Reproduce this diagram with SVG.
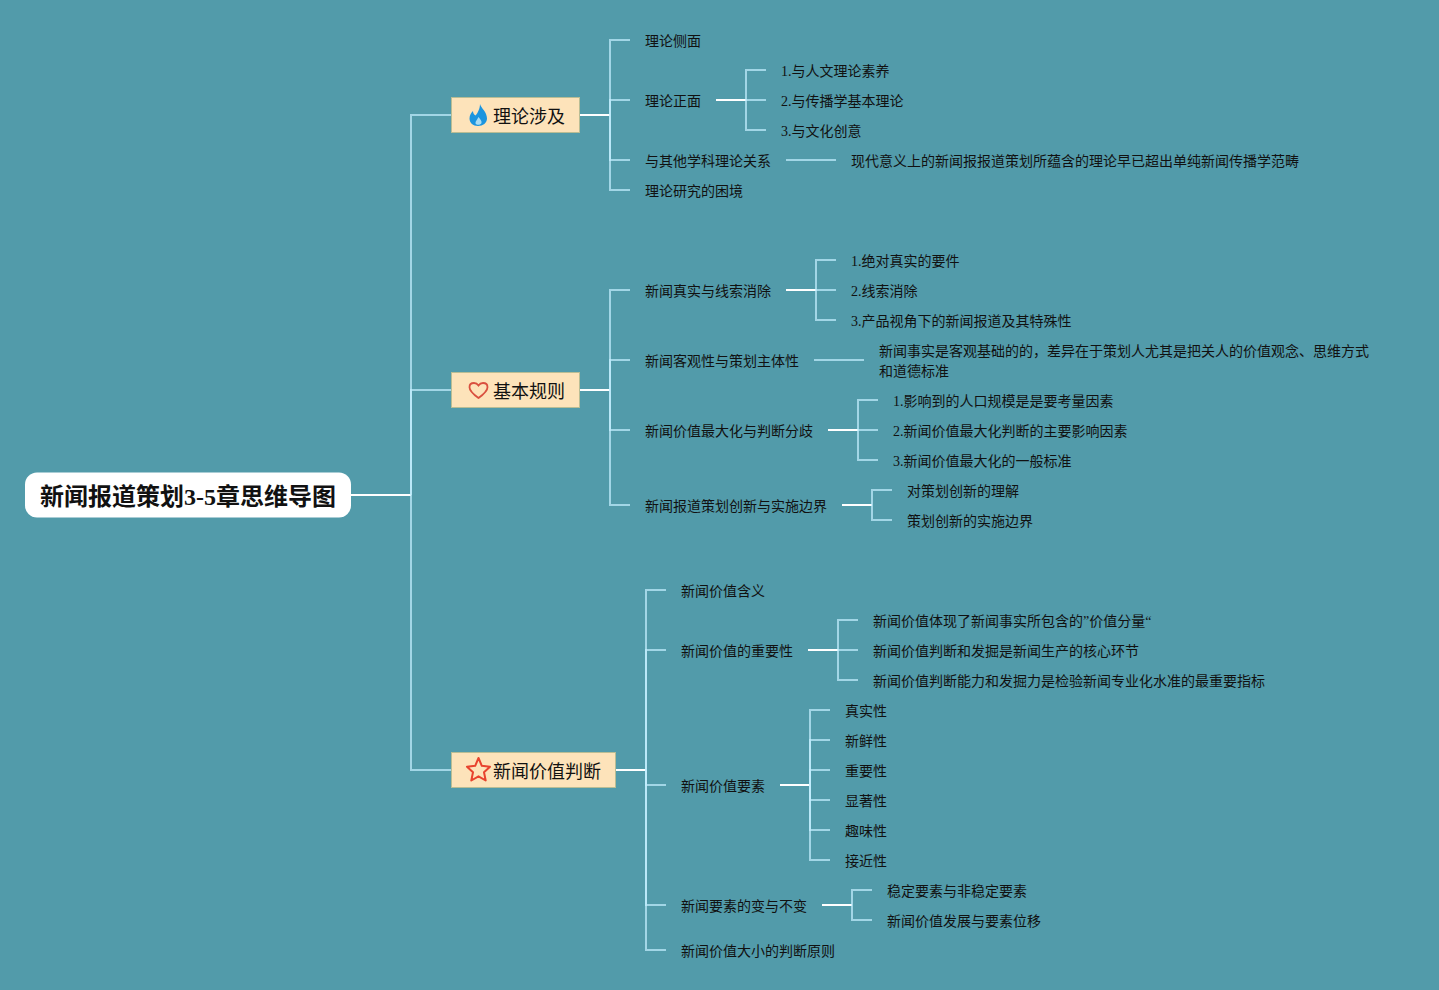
<svg xmlns="http://www.w3.org/2000/svg" width="1439" height="990" viewBox="0 0 1439 990">
<style>
text{font-family:"Liberation Serif","Noto Sans CJK SC",serif;fill:#111}
.t{font-size:14px}
.b{font-size:18px}
.r{font-size:24px;font-weight:bold}
.box{fill:#fde3ba;stroke:#b9bd94;stroke-width:1}
.c{fill:none;stroke-width:2;stroke:#c5f0ff;stroke-opacity:.7}
.w{fill:none;stroke-width:2;stroke:#fff}
</style>
<rect width="1439" height="990" fill="#529baa"/>
<g id="connectors">
<path class="w" d="M351 495H411"/>
<path class="c" d="M411 495V115H451"/><path class="c" d="M411 495V390H451"/><path class="c" d="M411 495V770H451"/>
<path class="w" d="M580 115H610M580 390H610M616 770H646"/>
<path class="c" d="M610 115V40H630"/><path class="c" d="M610 115V100H630"/><path class="c" d="M610 115V160H630"/><path class="c" d="M610 115V190H630"/>
<path class="w" d="M716 100H746"/>
<path class="c" d="M746 100V70H766"/><path class="c" d="M746 100H766"/><path class="c" d="M746 100V130H766"/>
<path class="c" d="M786 160H836"/>
<path class="c" d="M610 390V290H630"/><path class="c" d="M610 390V360H630"/><path class="c" d="M610 390V430H630"/><path class="c" d="M610 390V505H630"/>
<path class="w" d="M786 290H816"/>
<path class="c" d="M816 290V260H836"/><path class="c" d="M816 290H836"/><path class="c" d="M816 290V320H836"/>
<path class="c" d="M814 360H864"/>
<path class="w" d="M828 430H858"/>
<path class="c" d="M858 430V400H878"/><path class="c" d="M858 430H878"/><path class="c" d="M858 430V460H878"/>
<path class="w" d="M842 505H872"/>
<path class="c" d="M872 505V490H892"/><path class="c" d="M872 505V520H892"/>
<path class="c" d="M646 770V590H666"/><path class="c" d="M646 770V650H666"/><path class="c" d="M646 770V785H666"/><path class="c" d="M646 770V905H666"/><path class="c" d="M646 770V950H666"/>
<path class="w" d="M808 650H838"/>
<path class="c" d="M838 650V620H858"/><path class="c" d="M838 650H858"/><path class="c" d="M838 650V680H858"/>
<path class="w" d="M780 785H810"/>
<path class="c" d="M810 785V710H830"/><path class="c" d="M810 785V740H830"/><path class="c" d="M810 785V770H830"/><path class="c" d="M810 785V800H830"/><path class="c" d="M810 785V830H830"/><path class="c" d="M810 785V860H830"/>
<path class="w" d="M822 905H852"/>
<path class="c" d="M852 905V890H872"/><path class="c" d="M852 905V920H872"/>
</g>
<g id="root"><rect x="25" y="472.500" width="326" height="45" rx="12" fill="#fff"/><text class="r" x="40" y="505">新闻报道策划3-5章思维导图</text></g>
<g id="n-theory"><rect class="box" x="451.500" y="97.500" width="128" height="35"/>
<path d="M480 104C481 108 487 112 487 118.500C487 123 483 126 478 126C473 126 469.500 123 469.500 118.500C469.500 115 471.500 112.500 473 111C473 113 474 115 475.500 115.500C478 113 480 108 480 104Z" fill="#1b95df"/>
<path d="M478.500 117C480 119 482 121 481.500 123C481 125 476.500 125.500 475.500 123.500C475 121.500 477.500 119.500 478.500 117Z" fill="#a9dcf4"/>
<text class="b" x="493" y="123">理论涉及</text></g>
<g id="n-rules"><rect class="box" x="451.500" y="372.500" width="128" height="35"/>
<path d="M478.500 398C473 394 469.500 391 469.500 387.200C469.500 384.200 471.800 383 474 383C476 383 477.500 384 478.500 385.500C479.500 384 481 383 483 383C485.200 383 487.500 384.200 487.500 387.200C487.500 391 484 394 478.500 398Z" fill="none" stroke="#d9503f" stroke-width="1.800"/>
<text class="b" x="493" y="398">基本规则</text></g>
<g id="n-value"><rect class="box" x="451.500" y="752.500" width="164" height="35"/>
<path d="M478.500 758L481.800 765.800L490 766.800L484 772.300L485.700 780.500L478.500 776.300L471.300 780.500L473 772.300L467 766.800L475.200 765.800Z" fill="none" stroke="#e8432e" stroke-width="2" stroke-linejoin="round"/>
<text class="b" x="493" y="778">新闻价值判断</text></g>
<g id="labels">
<text class="t" x="645" y="46">理论侧面</text>
<text class="t" x="645" y="106">理论正面</text>
<text class="t" x="781" y="76">1.与人文理论素养</text>
<text class="t" x="781" y="106">2.与传播学基本理论</text>
<text class="t" x="781" y="136">3.与文化创意</text>
<text class="t" x="645" y="166">与其他学科理论关系</text>
<text class="t" x="851" y="166">现代意义上的新闻报报道策划所蕴含的理论早已超出单纯新闻传播学范畴</text>
<text class="t" x="645" y="196">理论研究的困境</text>
<text class="t" x="645" y="296">新闻真实与线索消除</text>
<text class="t" x="851" y="266">1.绝对真实的要件</text>
<text class="t" x="851" y="296">2.线索消除</text>
<text class="t" x="851" y="326">3.产品视角下的新闻报道及其特殊性</text>
<text class="t" x="645" y="366">新闻客观性与策划主体性</text>
<text class="t" x="879" y="356">新闻事实是客观基础的的，差异在于策划人尤其是把关人的价值观念、思维方式</text>
<text class="t" x="879" y="376">和道德标准</text>
<text class="t" x="645" y="436">新闻价值最大化与判断分歧</text>
<text class="t" x="893" y="406">1.影响到的人口规模是是要考量因素</text>
<text class="t" x="893" y="436">2.新闻价值最大化判断的主要影响因素</text>
<text class="t" x="893" y="466">3.新闻价值最大化的一般标准</text>
<text class="t" x="645" y="511">新闻报道策划创新与实施边界</text>
<text class="t" x="907" y="496">对策划创新的理解</text>
<text class="t" x="907" y="526">策划创新的实施边界</text>
<text class="t" x="681" y="596">新闻价值含义</text>
<text class="t" x="681" y="656">新闻价值的重要性</text>
<text class="t" x="873" y="626">新闻价值体现了新闻事实所包含的”价值分量“</text>
<text class="t" x="873" y="656">新闻价值判断和发掘是新闻生产的核心环节</text>
<text class="t" x="873" y="686">新闻价值判断能力和发掘力是检验新闻专业化水准的最重要指标</text>
<text class="t" x="681" y="791">新闻价值要素</text>
<text class="t" x="845" y="716">真实性</text>
<text class="t" x="845" y="746">新鲜性</text>
<text class="t" x="845" y="776">重要性</text>
<text class="t" x="845" y="806">显著性</text>
<text class="t" x="845" y="836">趣味性</text>
<text class="t" x="845" y="866">接近性</text>
<text class="t" x="681" y="911">新闻要素的变与不变</text>
<text class="t" x="887" y="896">稳定要素与非稳定要素</text>
<text class="t" x="887" y="926">新闻价值发展与要素位移</text>
<text class="t" x="681" y="956">新闻价值大小的判断原则</text>
</g>
</svg>
